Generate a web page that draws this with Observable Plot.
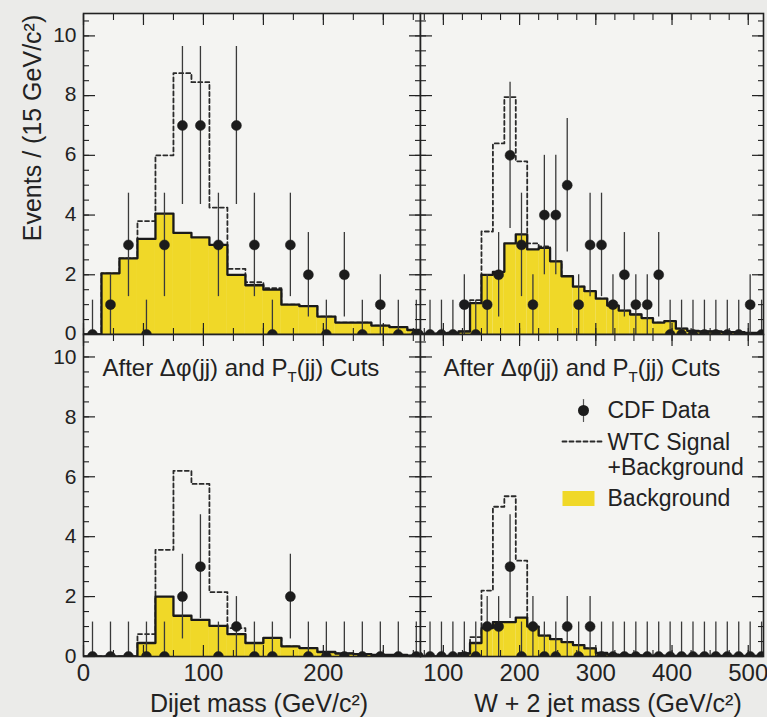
<!DOCTYPE html>
<html><head><meta charset="utf-8">
<script src="https://cdn.jsdelivr.net/npm/d3@7"></script>
<script src="https://cdn.jsdelivr.net/npm/@observablehq/plot@0.6"></script>
<style>
html,body{margin:0;padding:0;background:#ebebe9;}
#fig{position:relative;width:767px;height:717px;overflow:hidden;}
#fig svg{position:absolute;overflow:visible;}
</style></head><body><div id="fig"></div>
<script>
// ---------- data ----------
const binWidth = 15;
const binsDijet = [0,15,30,45,60,75,90,105,120,135,150,165,180,195,210,225,240,255,270];
const binsWjj = [60,75,90,105,120,135,150,165,180,195,210,225,240,255,270,285,300,315,330,345,360,375,390,405,420,435,450,465,480,495,510];

// top left: dijet mass, all events
const dijetData = [0,1,3,0,3,7,7,3,7,3,0,3,2,0,2,0,1,0,0];
const dijetBkg  = [0,2.05,2.55,3.2,4.05,3.4,3.25,3.0,2.0,1.65,1.5,1.0,0.95,0.6,0.4,0.4,0.3,0.25,0.15];
const dijetSig  = [0,2.05,2.55,3.8,6.0,8.75,8.45,4.25,2.2,1.75,1.55,1.0,0.95,0.6,0.4,0.4,0.3,0.25,0.15];

// top right: W + 2 jet mass, all events
const wjjData = [0,0,0,0,1,0,1,2,6,3,1,4,4,5,1,3,3,1,2,1,1,2,0,0,0,0,0,0,0,1,0];
const wjjBkg  = [0,0.02,0.03,0.05,0.1,1.05,2.0,2.1,3.05,3.35,2.85,2.9,2.45,1.95,1.6,1.45,1.2,0.97,0.8,0.67,0.55,0.4,0.45,0.2,0.12,0.1,0.1,0.08,0.08,0.05,0.05];
const wjjSig  = [0,0.02,0.03,0.05,0.1,1.15,3.45,6.4,7.95,5.8,3.05,2.95,2.45,1.95,1.6,1.45,1.2,0.97,0.8,0.67,0.55,0.4,0.45,0.2,0.12,0.1,0.1,0.08,0.08,0.05,0.05];

// bottom left: dijet mass after cuts
const cutDijetData = [0,0,0,0,0,2,3,0,1,0,0,2,0,0,0,0,0,0,0];
const cutDijetBkg  = [0,0,0,0.45,2.0,1.36,1.22,1.02,0.75,0.45,0.62,0.34,0.28,0.15,0.1,0.08,0.05,0.05,0.03];
const cutDijetSig  = [0,0,0,0.75,3.56,6.2,5.76,2.15,0.95,0.45,0.62,0.34,0.28,0.15,0.1,0.08,0.05,0.05,0.03];

// bottom right: W + 2 jet mass after cuts
const cutWjjData = [0,0,0,0,0,0,1,1,3,0,1,0,0,1,0,1,0,0,0,0,0,0,0,0,0,0,0,0,0,0,0];
const cutWjjBkg  = [0,0,0,0.02,0.1,0.45,0.95,1.15,1.15,1.3,1.0,0.7,0.58,0.48,0.38,0.27,0.12,0.06,0.05,0.04,0.03,0.03,0.02,0.02,0.02,0.02,0.02,0.02,0.02,0.02,0.02];
const cutWjjSig  = [0,0,0,0.02,0.1,0.65,2.2,5.0,5.35,3.2,1.0,0.7,0.58,0.48,0.38,0.27,0.12,0.06,0.05,0.04,0.03,0.03,0.02,0.02,0.02,0.02,0.02,0.02,0.02,0.02,0.02];

// axes / ticks / labels
const yTickLabels = [0,2,4,6,8,10];
const dijetTickLabels = [0,100,200];
const wjjTickLabels = [100,200,300,400,500];
const yLabel = "Events / (15 GeV/c²)";
const dijetLabel = "Dijet mass (GeV/c²)";
const wjjLabel = "W + 2 jet mass (GeV/c²)";
const cutLabel = "After Δφ(jj) and PT(jj) Cuts";
const legendLabels = ["CDF Data", "WTC Signal\n+Background", "Background"];
const zeroUpperError = 1.15;

// ---------- style ----------
const FONT = '"Liberation Sans", Arial, Helvetica, sans-serif';
const INK = "#222222";
const YELLOW = "#f0d828";
const PANEL_BG = "#f4f4f2";
const lineShape = {draw(context, l) { context.moveTo(0, 0); context.lineTo(0, -l); }};
const noText = () => "";

function tickMarks(xMajor, xMinor) {
  const yMajor = d3.range(0, 10.01, 2), yMinor = d3.range(0, 10.76, 0.5);
  const out = [];
  for (const anchor of ["bottom", "top"]) {
    out.push(Plot.axisX({anchor, ticks: xMajor, tickSize: -11, tickFormat: noText, label: null, stroke: INK, strokeWidth: 1.2}));
    out.push(Plot.axisX({anchor, ticks: xMinor, tickSize: -6, tickFormat: noText, label: null, stroke: INK, strokeWidth: 1.1}));
  }
  for (const anchor of ["left", "right"]) {
    out.push(Plot.axisY({anchor, ticks: yMajor, tickSize: -12, tickFormat: noText, label: null, stroke: INK, strokeWidth: 1.2}));
    out.push(Plot.axisY({anchor, ticks: yMinor, tickSize: -6, tickFormat: noText, label: null, stroke: INK, strokeWidth: 1.1}));
  }
  return out;
}

function panel(cfg) {
  const {bins, counts, bkg, sig, xDomain, xMajor, xMinor, width, height, margin, extra} = cfg;
  const last = bins.length - 1;
  const step = vals => bins.map((b, i) => ({x: b, y: vals[i]})).concat([{x: bins[last] + binWidth, y: vals[last]}]);
  const hist = bins.map((b, i) => ({x1: b, x2: b + binWidth, y1: 0, y2: bkg[i]}));
  const pts = bins.map((b, i) => ({x: b + binWidth / 2, n: counts[i]}));
  const lo = d => d.n > 0 ? d.n - Math.sqrt(d.n) : 0;
  const hi = d => d.n > 0 ? d.n + Math.sqrt(d.n) : zeroUpperError;
  return Plot.plot({
    width, height,
    marginLeft: margin[3], marginRight: margin[1], marginTop: margin[0], marginBottom: margin[2],
    style: {background: "transparent", fontFamily: FONT, color: INK, overflow: "visible"},
    x: {domain: xDomain},
    y: {domain: [0, 10.75]},
    marks: [
      Plot.frame({fill: PANEL_BG}),
      Plot.line(step(sig), {x: "x", y: "y", curve: "step-after", stroke: "#2a2a2a", strokeWidth: 1.8, strokeDasharray: "4,3", clip: true}),
      Plot.rect(hist, {x1: "x1", x2: "x2", y1: "y1", y2: "y2", fill: YELLOW, clip: true}),
      Plot.line(step(bkg), {x: "x", y: "y", curve: "step-after", stroke: "#1a1a1a", strokeWidth: 2.3, clip: true}),
      Plot.ruleX(pts, {x: "x", y1: lo, y2: hi, stroke: "#3a3a3a", strokeWidth: 1.3, clip: true}),
      Plot.dot(pts, {x: "x", y: "n", r: 5, fill: "#1c1c1c", stroke: "#1c1c1c", strokeWidth: 0.5, clip: true}),
      ...tickMarks(xMajor, xMinor),
      Plot.frame({stroke: INK, strokeWidth: 1.6}),
      ...extra
    ]
  });
}

const yTickAxis = (dy) => Plot.axisY({anchor: "left", ticks: yTickLabels, tickSize: 0, tickPadding: 7, fontSize: 21, dy, label: null, tickFormat: d => String(d)});
const textOpts = {fontSize: 24, fill: INK};
const legendText = {fontSize: 23, fill: INK};

const tl = panel({
  bins: binsDijet, counts: dijetData, bkg: dijetBkg, sig: dijetSig,
  xDomain: [0, 281], xMajor: d3.range(0, 281, 50), xMinor: d3.range(0, 281, 25),
  width: 422, height: 336, margin: [13, 2, 2, 83],
  extra: [
    yTickAxis(-1),
    Plot.text([yLabel], {frameAnchor: "left", rotate: -90, dx: -51, dy: -46, fontSize: 25, fill: INK, textAnchor: "middle", lineAnchor: "middle"})
  ]
});

const tr = panel({
  bins: binsWjj, counts: wjjData, bkg: wjjBkg, sig: wjjSig,
  xDomain: [70, 520], xMajor: d3.range(100, 521, 100), xMinor: d3.range(75, 521, 25),
  width: 347, height: 336, margin: [13, 2, 2, 2],
  extra: []
});

const bl = panel({
  bins: binsDijet, counts: cutDijetData, bkg: cutDijetBkg, sig: cutDijetSig,
  xDomain: [0, 281], xMajor: d3.range(0, 281, 50), xMinor: d3.range(0, 281, 25),
  width: 422, height: 385, margin: [2, 2, 61, 83],
  extra: [
    yTickAxis(0),
    Plot.axisX({anchor: "bottom", ticks: dijetTickLabels, tickSize: 0, tickPadding: 7, fontSize: 24, label: null, tickFormat: d => String(d)}),
    Plot.text([cutLabel], {frameAnchor: "top-left", dx: 19, dy: 34, textAnchor: "start", lineAnchor: "middle", ...textOpts}),
    Plot.text([dijetLabel], {frameAnchor: "bottom", dx: 7, dy: 47, textAnchor: "middle", lineAnchor: "middle", fontSize: 25, fill: INK})
  ]
});

const br = panel({
  bins: binsWjj, counts: cutWjjData, bkg: cutWjjBkg, sig: cutWjjSig,
  xDomain: [70, 520], xMajor: d3.range(100, 521, 100), xMinor: d3.range(75, 521, 25),
  width: 347, height: 385, margin: [2, 2, 61, 2],
  extra: [
    Plot.axisX({anchor: "bottom", ticks: wjjTickLabels, tickSize: 0, tickPadding: 7, fontSize: 24, label: null, tickFormat: d => String(d)}),
    Plot.text([cutLabel], {frameAnchor: "top-left", dx: 23, dy: 34, textAnchor: "start", lineAnchor: "middle", ...textOpts}),
    Plot.text([wjjLabel], {frameAnchor: "bottom", dx: 16, dy: 47, textAnchor: "middle", lineAnchor: "middle", fontSize: 25, fill: INK}),
    // legend
    Plot.vector([0], {frameAnchor: "top-left", dx: 163, dy: 76, length: 22, anchor: "middle", rotate: 0, shape: lineShape, stroke: "#555", strokeWidth: 1.2}),
    Plot.dot([0], {frameAnchor: "top-left", dx: 163, dy: 76, r: 5.5, fill: "#1c1c1c"}),
    Plot.text([legendLabels[0]], {frameAnchor: "top-left", dx: 187, dy: 76, textAnchor: "start", lineAnchor: "middle", ...legendText}),
    Plot.vector([0], {frameAnchor: "top-left", dx: 142, dy: 107, length: 40, anchor: "start", rotate: 90, shape: lineShape, stroke: "#2a2a2a", strokeWidth: 1.8, strokeDasharray: "4,3"}),
    Plot.text([legendLabels[1]], {frameAnchor: "top-left", dx: 187, dy: 120, textAnchor: "start", lineAnchor: "middle", lineHeight: 1.1, ...legendText}),
    Plot.vector([0], {frameAnchor: "top-left", dx: 142, dy: 164, length: 32, anchor: "start", rotate: 90, shape: lineShape, stroke: YELLOW, strokeWidth: 15, strokeLinecap: "butt"}),
    Plot.text([legendLabels[2]], {frameAnchor: "top-left", dx: 187, dy: 164, textAnchor: "start", lineAnchor: "middle", ...legendText})
  ]
});

const fig = document.getElementById("fig");
const place = (svg, left, top) => { svg.style.left = left + "px"; svg.style.top = top + "px"; fig.appendChild(svg); };
place(tl, 0, 0);
place(tr, 418, 0);
place(bl, 0, 332);
place(br, 418, 332);

// subscript T in "P_T"
const NS = "http://www.w3.org/2000/svg";
fig.querySelectorAll("text").forEach(t => {
  if (t.textContent === cutLabel) {
    const target = t.querySelector("tspan") || t;
    target.textContent = "";
    const mk = (s, attrs) => { const e = document.createElementNS(NS, "tspan"); e.textContent = s; for (const k in attrs) e.setAttribute(k, attrs[k]); target.appendChild(e); };
    mk("After Δφ(jj) and P", {});
    mk("T", {dy: "6", "font-size": "15"});
    mk("(jj) Cuts", {dy: "-6"});
  }
});
</script></body></html>
